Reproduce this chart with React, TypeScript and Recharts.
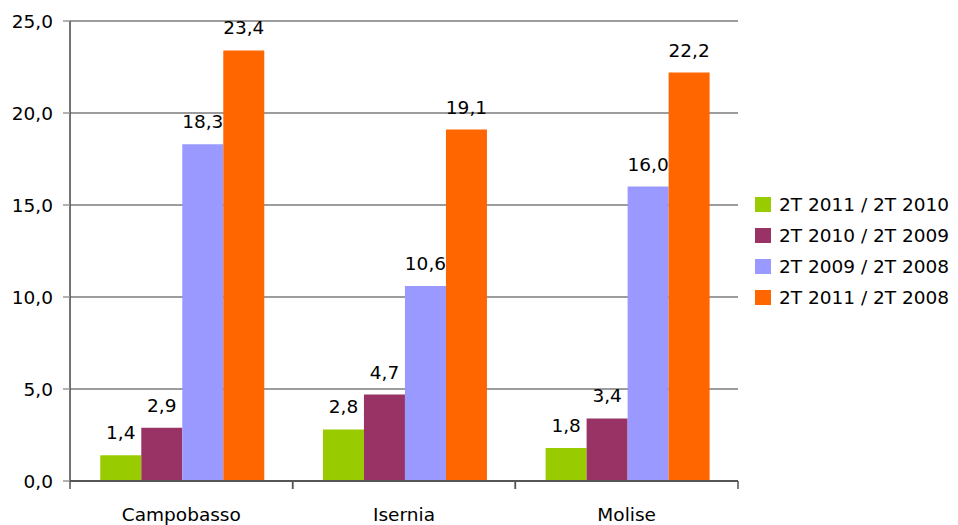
import { BarChart, Bar, XAxis, YAxis, CartesianGrid, LabelList } from 'recharts'

const categories = ['Campobasso', 'Isernia', 'Molise']
const s2011_2010 = [1.4, 2.8, 1.8]
const s2010_2009 = [2.9, 4.7, 3.4]
const s2009_2008 = [18.3, 10.6, 16.0]
const s2011_2008 = [23.4, 19.1, 22.2]
const yTicks = [0, 5, 10, 15, 20, 25]

const SERIES = [
  { key: 'a', name: '2T 2011 / 2T 2010', values: s2011_2010, color: '#99CC00' },
  { key: 'b', name: '2T 2010 / 2T 2009', values: s2010_2009, color: '#993366' },
  { key: 'c', name: '2T 2009 / 2T 2008', values: s2009_2008, color: '#9999FF' },
  { key: 'd', name: '2T 2011 / 2T 2008', values: s2011_2008, color: '#FF6600' },
]

const data = categories.map((cat, i) => {
  const row: Record<string, any> = { cat }
  SERIES.forEach((s) => { row[s.key] = s.values[i] })
  return row
})

const FONT = '"DejaVu Sans", sans-serif'
const FS = 18.5
const fmt = (v: number) => v.toFixed(1).replace('.', ',')

// category labels + tick marks on the band boundaries
function CatTick({ x, y, payload }: any) {
  const half = payload?.offset ?? 111
  return (
    <g>
      <line x1={x - half} y1={y} x2={x - half} y2={y + 8} stroke="#555" strokeWidth={1.5} />
      <line x1={x + half} y1={y} x2={x + half} y2={y + 8} stroke="#555" strokeWidth={1.5} />
      <text x={x} y={y + 40} textAnchor="middle" fontSize={FS} fill="#000" fontFamily={FONT}>
        {payload.value}
      </text>
    </g>
  )
}

export default function App() {
  return (
    <div style={{ position: 'absolute', left: 0, top: 0, width: 958, height: 525, background: '#fff' }}>
      <BarChart
        width={958}
        height={525}
        data={data}
        margin={{ top: 21, right: 220, left: 0, bottom: 14 }}
        barCategoryGap="13.6%"
        barGap={0}
      >
        <CartesianGrid vertical={false} stroke="#3a3a3a" />
        <XAxis
          dataKey="cat"
          height={30}
          axisLine={{ stroke: '#555', strokeWidth: 2 }}
          tickLine={false}
          tick={<CatTick />}
          tickSize={0}
          tickMargin={0}
          interval={0}
        />
        <YAxis
          domain={[0, 25]}
          ticks={yTicks}
          width={70}
          tickSize={7}
          tickMargin={10}
          tickFormatter={fmt}
          axisLine={{ stroke: '#444', strokeWidth: 1.5 }}
          tickLine={{ stroke: '#999', strokeWidth: 1.5 }}
          tick={{ fontSize: FS, fill: '#000', fontFamily: FONT }}
          interval={0}
        />
        <YAxis yAxisId="r" orientation="right" width={0} tick={false} tickLine={false} axisLine={{ stroke: '#999', strokeWidth: 1.5 }} />
        {SERIES.map((s) => (
          <Bar key={s.key} dataKey={s.key} name={s.name} fill={s.color} isAnimationActive={false}>
            <LabelList
              dataKey={s.key}
              position="top"
              offset={16}
              formatter={(v: any) => fmt(Number(v))}
              style={{ fontSize: FS, fill: '#000', fontFamily: FONT }}
            />
          </Bar>
        ))}
      </BarChart>
      <div style={{ position: 'absolute', left: 755, top: 189, fontFamily: FONT, fontSize: FS, color: '#000' }}>
        {SERIES.map((s) => (
          <div key={s.key} style={{ display: 'flex', alignItems: 'center', height: 31, whiteSpace: 'nowrap' }}>
            <div style={{ width: 16, height: 15, background: s.color, marginRight: 8 }} />
            <span>{s.name}</span>
          </div>
        ))}
      </div>
    </div>
  )
}
